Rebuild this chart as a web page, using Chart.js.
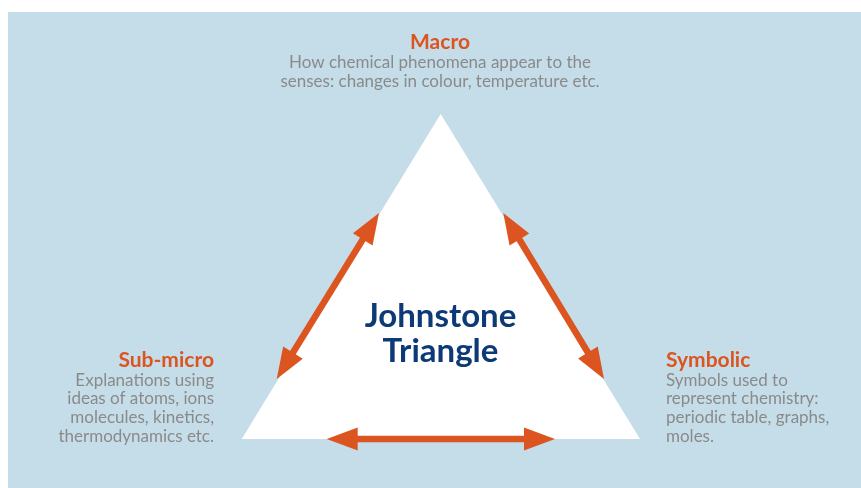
<!DOCTYPE html>
<html><head><meta charset="utf-8">
<script src="https://cdn.jsdelivr.net/npm/chart.js@4.4.0/dist/chart.umd.min.js"></script>
<style>html,body{margin:0;padding:0;background:#fff;}canvas{display:block;}</style>
</head><body>
<canvas id="c" width="861" height="488"></canvas>
<script>
// ---- content ----
const nodeNames = ['Macro', 'Sub-micro', 'Symbolic'];
const nodeTexts = [
  ['How chemical phenomena appear to the', 'senses: changes in colour, temperature etc.'],
  ['Explanations using', 'ideas of atoms, ions', 'molecules, kinetics,', 'thermodynamics etc.'],
  ['Symbols used to', 'represent chemistry:', 'periodic table, graphs,', 'moles.']
];
const centreTitle = ['Johnstone', 'Triangle'];
// triangle vertices (x, y) in diagram units
const triX = [440.7, 640, 241.7, 440.7];
const triY = [114, 439, 439, 114];
// arrow ends (tips) in diagram units
const arrowStartX = [276.7, 604, 326.7];
const arrowStartY = [379, 379, 439];
const arrowEndX   = [379, 503.3, 555];
const arrowEndY   = [213, 213, 439];
// panel
const panelX = [8, 861, 861, 8, 8];
const panelY = [12, 12, 488, 488, 12];

const ORANGE = '#dc5420', NAVY = '#0d3a76', GREY = '#8a8a8a', BG = '#c5dde8';
const FONT = 'Lato';

const pts = (xs, ys) => xs.map((x, i) => ({x, y: ys[i]}));

const arrowPlugin = {
  id: 'arrows',
  afterDatasetsDraw(chart) {
    const ctx = chart.ctx;
    chart.data.datasets.forEach((ds, di) => {
      if (!ds.isArrow) return;
      const m = chart.getDatasetMeta(di).data;
      const a = m[0], b = m[1];
      const dx = b.x - a.x, dy = b.y - a.y, L = Math.hypot(dx, dy);
      const ux = dx / L, uy = dy / L, nx = -uy, ny = ux;
      const hl = 31, hw = 11.5, sw = 6.5;
      ctx.save();
      ctx.fillStyle = ORANGE;
      const s0x = a.x + ux * (hl - 2), s0y = a.y + uy * (hl - 2);
      const s1x = b.x - ux * (hl - 2), s1y = b.y - uy * (hl - 2);
      ctx.beginPath();
      ctx.moveTo(s0x + nx * sw / 2, s0y + ny * sw / 2);
      ctx.lineTo(s1x + nx * sw / 2, s1y + ny * sw / 2);
      ctx.lineTo(s1x - nx * sw / 2, s1y - ny * sw / 2);
      ctx.lineTo(s0x - nx * sw / 2, s0y - ny * sw / 2);
      ctx.closePath(); ctx.fill();
      [[a, 1], [b, -1]].forEach(([p, s]) => {
        const bx = p.x + s * ux * hl, by = p.y + s * uy * hl;
        ctx.beginPath();
        ctx.moveTo(p.x, p.y);
        ctx.lineTo(bx + nx * hw, by + ny * hw);
        ctx.lineTo(bx - nx * hw, by - ny * hw);
        ctx.closePath(); ctx.fill();
      });
      ctx.restore();
    });
  }
};

const textPlugin = {
  id: 'texts',
  afterDraw(chart) {
    const ctx = chart.ctx, sx = chart.scales.x, sy = chart.scales.y;
    const X = v => sx.getPixelForValue(v), Y = v => sy.getPixelForValue(v);
    ctx.save();
    ctx.textBaseline = 'alphabetic';
    const layout = [
      [440, 48.5, 'center', 68.3, 18.3],
      [214, 367, 'right', 385.7, 18.7],
      [666, 367, 'left', 385.7, 18.7]
    ];
    nodeNames.forEach((name, i) => {
      const [ax, tb, al, fb, st] = layout[i];
      ctx.textAlign = al;
      ctx.fillStyle = ORANGE;
      ctx.font = `bold 21px ${FONT}`;
      ctx.fillText(name, X(ax), Y(tb));
      ctx.fillStyle = GREY;
      ctx.font = `17px ${FONT}`;
      nodeTexts[i].forEach((t, j) => ctx.fillText(t, X(ax), Y(fb + j * st)));
    });
    ctx.textAlign = 'center';
    ctx.fillStyle = NAVY;
    ctx.font = `bold 33px ${FONT}`;
    centreTitle.forEach((t, j) => ctx.fillText(t, X(440.5), Y(326.7 + j * 35)));
    ctx.restore();
  }
};

new Chart(document.getElementById('c'), {
  type: 'scatter',
  data: {
    datasets: [
      { order: 3, data: pts(panelX, panelY), showLine: true, fill: 'shape', backgroundColor: BG, borderWidth: 0, pointRadius: 0 },
      { order: 2, data: pts(triX, triY), showLine: true, fill: 'shape', backgroundColor: '#ffffff', borderWidth: 0, pointRadius: 0 },
      ...arrowStartX.map((x, i) => ({ order: 1, isArrow: true, data: [{x, y: arrowStartY[i]}, {x: arrowEndX[i], y: arrowEndY[i]}], showLine: false, pointRadius: 0 }))
    ]
  },
  options: {
    responsive: false, animation: false, events: [],
    layout: { padding: 0 },
    plugins: { legend: { display: false }, tooltip: { enabled: false } },
    scales: {
      x: { type: 'linear', min: 0, max: 861, display: false },
      y: { type: 'linear', min: 0, max: 488, reverse: true, display: false }
    }
  },
  plugins: [arrowPlugin, textPlugin]
});
</script>
</body></html>
